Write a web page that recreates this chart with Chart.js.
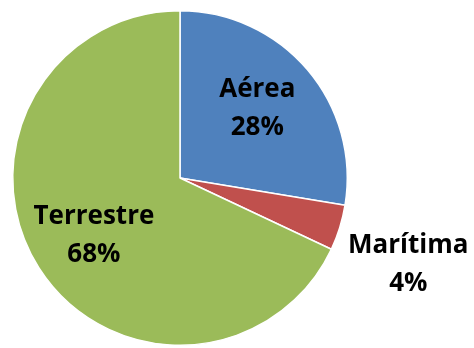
<!DOCTYPE html>
<html>
<head>
<meta charset="utf-8">
<script src="https://cdn.jsdelivr.net/npm/chart.js@4/dist/chart.umd.min.js"></script>
<style>
    html, body { margin: 0; padding: 0; background: #ffffff; }
    #wrapper { width: 474px; height: 348px; position: relative; }
</style>
</head>
<body>
<div id="wrapper"><canvas id="chart"></canvas></div>
<script>
var categories = ['Aérea', 'Marítima', 'Terrestre'];
var shares = [27.6, 4.4, 68.0];
var sliceColors = ['#4F81BD', '#C0504D', '#9BBB59'];

// label placement: fraction of radius from the centre, extra angle (degrees)
var labelFont = 'bold 26px "Open Sans", Lato, sans-serif';

function placeFor(i) {
    if (categories[i] === 'Marítima') return { r: 1.46, turn: 3.5 };
    return { r: 0.62, turn: -1.5 };
}

var sliceLabels = {
    id: 'sliceLabels',
    afterDatasetsDraw: function(chart) {
        var ctx = chart.ctx;
        var meta = chart.getDatasetMeta(0);
        var total = 0;
        for (var k = 0; k < shares.length; k++) total += shares[k];
        ctx.save();
        ctx.font = labelFont;
        ctx.fillStyle = '#000000';
        ctx.textAlign = 'center';
        ctx.textBaseline = 'middle';
        for (var i = 0; i < meta.data.length; i++) {
            var arc = meta.data[i];
            var p = placeFor(i);
            var mid = (arc.startAngle + arc.endAngle) / 2 + p.turn * Math.PI / 180;
            var x = arc.x + Math.cos(mid) * arc.outerRadius * p.r;
            var y = arc.y + Math.sin(mid) * arc.outerRadius * p.r;
            var pct = Math.round(shares[i] / total * 100) + '%';
            ctx.fillText(categories[i], x, y - 19);
            ctx.fillText(pct, x, y + 19);
        }
        ctx.restore();
    }
};

var ctx = document.getElementById('chart').getContext('2d');
var chart = new Chart(ctx, {
    type: 'pie',
    data: {
        labels: categories,
        datasets: [{
            data: shares,
            backgroundColor: sliceColors,
            borderColor: '#ffffff',
            borderWidth: 1.5
        }]
    },
    options: {
        responsive: true,
        maintainAspectRatio: false,
        animation: false,
        layout: { padding: { left: 12, right: 126, top: 10, bottom: 2 } },
        plugins: {
            legend: { display: false },
            tooltip: { enabled: false }
        }
    },
    plugins: [sliceLabels]
});
</script>
</body>
</html>
